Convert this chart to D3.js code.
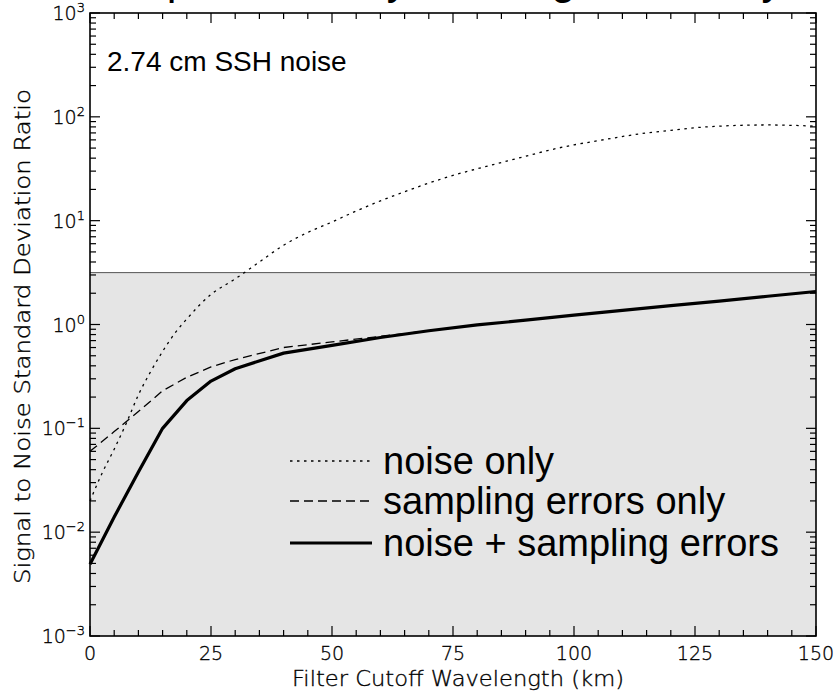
<!DOCTYPE html>
<html><head><meta charset="utf-8">
<script src="https://cdn.jsdelivr.net/npm/d3@7/dist/d3.min.js"></script>
<style>
html,body{margin:0;padding:0;background:#fff;}
svg{display:block;}
</style></head>
<body>
<svg id="chart" width="836" height="695"></svg>
<script>
// ---- data ----
const titleText = "Geostrophic Velocity Filtering Sensitivity";
const panelLabel = "2.74 cm SSH noise";
const xLabel = "Filter Cutoff Wavelength (km)";
const yLabel = "Signal to Noise Standard Deviation Ratio";
const xTickValues = [0, 25, 50, 75, 100, 125, 150];
const yDecadeExponents = [-3, -2, -1, 0, 1, 2, 3];
const shadeTop = 3.16;   // threshold (10^0.5)

const noiseX = [0, 2.5, 5, 7.5, 10, 12.5, 15, 17.5, 20, 25, 30, 35, 40, 45, 50, 55, 60, 65, 70, 75, 80, 85, 90, 95, 100, 105, 110, 115, 120, 125, 130, 135, 140, 145, 150];
const noiseOnly = [0.02, 0.037, 0.063, 0.112, 0.21, 0.35, 0.55, 0.82, 1.13, 1.95, 2.75, 4.0, 5.8, 7.7, 9.7, 12.4, 15.5, 19.0, 23.0, 27.3, 31.6, 36.3, 41.7, 47.9, 53.7, 58.9, 64.6, 70, 74, 78.5, 81.3, 83, 83.5, 82.8, 81.3];

const sampX = [0, 5, 10, 15, 20, 25, 30, 40, 50, 60, 70, 80, 90, 100, 110, 120, 130, 140, 150];
const samplingOnly = [0.06, 0.093, 0.145, 0.23, 0.31, 0.39, 0.46, 0.6, 0.68, 0.77, 0.87, 0.99, 1.1, 1.23, 1.37, 1.52, 1.68, 1.87, 2.08];
const combined = [0.0049, 0.014, 0.038, 0.1, 0.185, 0.285, 0.375, 0.53, 0.63, 0.75, 0.87, 0.99, 1.1, 1.23, 1.37, 1.52, 1.68, 1.87, 2.08];

const legendLabels = ["noise only", "sampling errors only", "noise + sampling errors"];

// ---- layout ----
const svg = d3.select("#chart");
const L = 90, R = 816, T = 13, B = 636;
const x = d3.scaleLinear().domain([0, 150]).range([L, R]);
const y = d3.scaleLog().domain([1e-3, 1e3]).range([B, T]);

const tickFont = "'DejaVu Sans', sans-serif";
const textFont = "'Liberation Sans', Arial, Helvetica, sans-serif";

// title (mostly cut off at top, as in the original)
svg.append("text").attr("x", 12).attr("y", -6)
  .attr("font-family", textFont).attr("font-size", 43.5).attr("fill", "#000")
  .text(titleText);

// shaded region
svg.append("rect").attr("x", L).attr("y", y(shadeTop))
  .attr("width", R - L).attr("height", B - y(shadeTop)).attr("fill", "#e5e5e5");
svg.append("line").attr("x1", L).attr("x2", R).attr("y1", y(shadeTop)).attr("y2", y(shadeTop))
  .attr("stroke", "#555").attr("stroke-width", 1);

// ticks
const minorX = d3.range(0, 151, 5);
const tickG = svg.append("g").attr("stroke", "#000").attr("stroke-width", 1.2);
minorX.forEach(v => {
  const len = (v % 25 === 0) ? 10 : 6;
  tickG.append("line").attr("x1", x(v)).attr("x2", x(v)).attr("y1", B).attr("y2", B - len);
  tickG.append("line").attr("x1", x(v)).attr("x2", x(v)).attr("y1", T).attr("y2", T + len);
});
yDecadeExponents.forEach(e => {
  const base = Math.pow(10, e);
  tickG.append("line").attr("x1", L).attr("x2", L + 10).attr("y1", y(base)).attr("y2", y(base));
  tickG.append("line").attr("x1", R).attr("x2", R - 10).attr("y1", y(base)).attr("y2", y(base));
  if (e < 3) {
    for (let m = 2; m <= 9; m++) {
      const v = m * base;
      tickG.append("line").attr("x1", L).attr("x2", L + 6).attr("y1", y(v)).attr("y2", y(v));
      tickG.append("line").attr("x1", R).attr("x2", R - 6).attr("y1", y(v)).attr("y2", y(v));
    }
  }
});

// lines
const lineLin = d3.line().x(d => x(d[0])).y(d => y(d[1]));
const lineSmooth = d3.line().x(d => x(d[0])).y(d => y(d[1])).curve(d3.curveMonotoneX);
svg.append("path").datum(noiseX.map((v, i) => [v, noiseOnly[i]]))
  .attr("d", lineSmooth).attr("fill", "none").attr("stroke", "#000")
  .attr("stroke-width", 1.3).attr("stroke-dasharray", "2.5,4.5");
svg.append("path").datum(sampX.map((v, i) => [v, samplingOnly[i]]))
  .attr("d", lineLin).attr("fill", "none").attr("stroke", "#000")
  .attr("stroke-width", 1.3).attr("stroke-dasharray", "9,5");
svg.append("path").datum(sampX.map((v, i) => [v, combined[i]]))
  .attr("d", lineLin).attr("fill", "none").attr("stroke", "#000")
  .attr("stroke-width", 3.2).attr("stroke-linejoin", "round");

// frame
svg.append("rect").attr("x", L).attr("y", T).attr("width", R - L).attr("height", B - T)
  .attr("fill", "none").attr("stroke", "#000").attr("stroke-width", 1.6);

// helper for thin "plotter" style labels
function thin(sel) {
  return sel.attr("font-family", tickFont).attr("font-weight", 200)
    .attr("fill", "#000").attr("stroke", "#000").attr("stroke-width", 0.35);
}

// x tick labels
xTickValues.forEach(v => {
  thin(svg.append("text")).attr("x", x(v)).attr("y", B + 24)
    .attr("text-anchor", "middle").attr("font-size", 19).text(v);
});
// y tick labels
yDecadeExponents.forEach(e => {
  const t = thin(svg.append("text")).attr("x", L - 5).attr("y", y(Math.pow(10, e)) + 7)
    .attr("text-anchor", "end").attr("font-size", 19);
  t.append("tspan").text("10");
  t.append("tspan").attr("dy", -8).attr("font-size", 13).text(e < 0 ? "\u2212" + (-e) : String(e));
});

// axis titles
thin(svg.append("text")).attr("x", (L + R) / 2 + 5).attr("y", B + 50)
  .attr("text-anchor", "middle").attr("font-size", 21)
  .attr("textLength", 332).attr("lengthAdjust", "spacingAndGlyphs").text(xLabel);
thin(svg.append("text")).attr("transform", `translate(30,${(T + B) / 2 + 12}) rotate(-90)`)
  .attr("text-anchor", "middle").attr("font-size", 21)
  .attr("textLength", 495).attr("lengthAdjust", "spacingAndGlyphs").text(yLabel);

// panel label
svg.append("text").attr("x", 107).attr("y", 71)
  .attr("font-family", textFont).attr("font-size", 28).attr("fill", "#000").text(panelLabel);

// legend
const legStyles = [
  {w: 1.3, dash: "2.5,4.5"},
  {w: 1.3, dash: "9,5"},
  {w: 3.2, dash: null}
];
const legY = [461, 501, 543];
legendLabels.forEach((lab, i) => {
  const ln = svg.append("line").attr("x1", 290).attr("x2", 372)
    .attr("y1", legY[i]).attr("y2", legY[i])
    .attr("stroke", "#000").attr("stroke-width", legStyles[i].w);
  if (legStyles[i].dash) ln.attr("stroke-dasharray", legStyles[i].dash);
  svg.append("text").attr("x", 383).attr("y", legY[i] + 13)
    .attr("font-family", textFont).attr("font-size", 38).attr("fill", "#000").text(lab);
});
</script>
</body></html>
